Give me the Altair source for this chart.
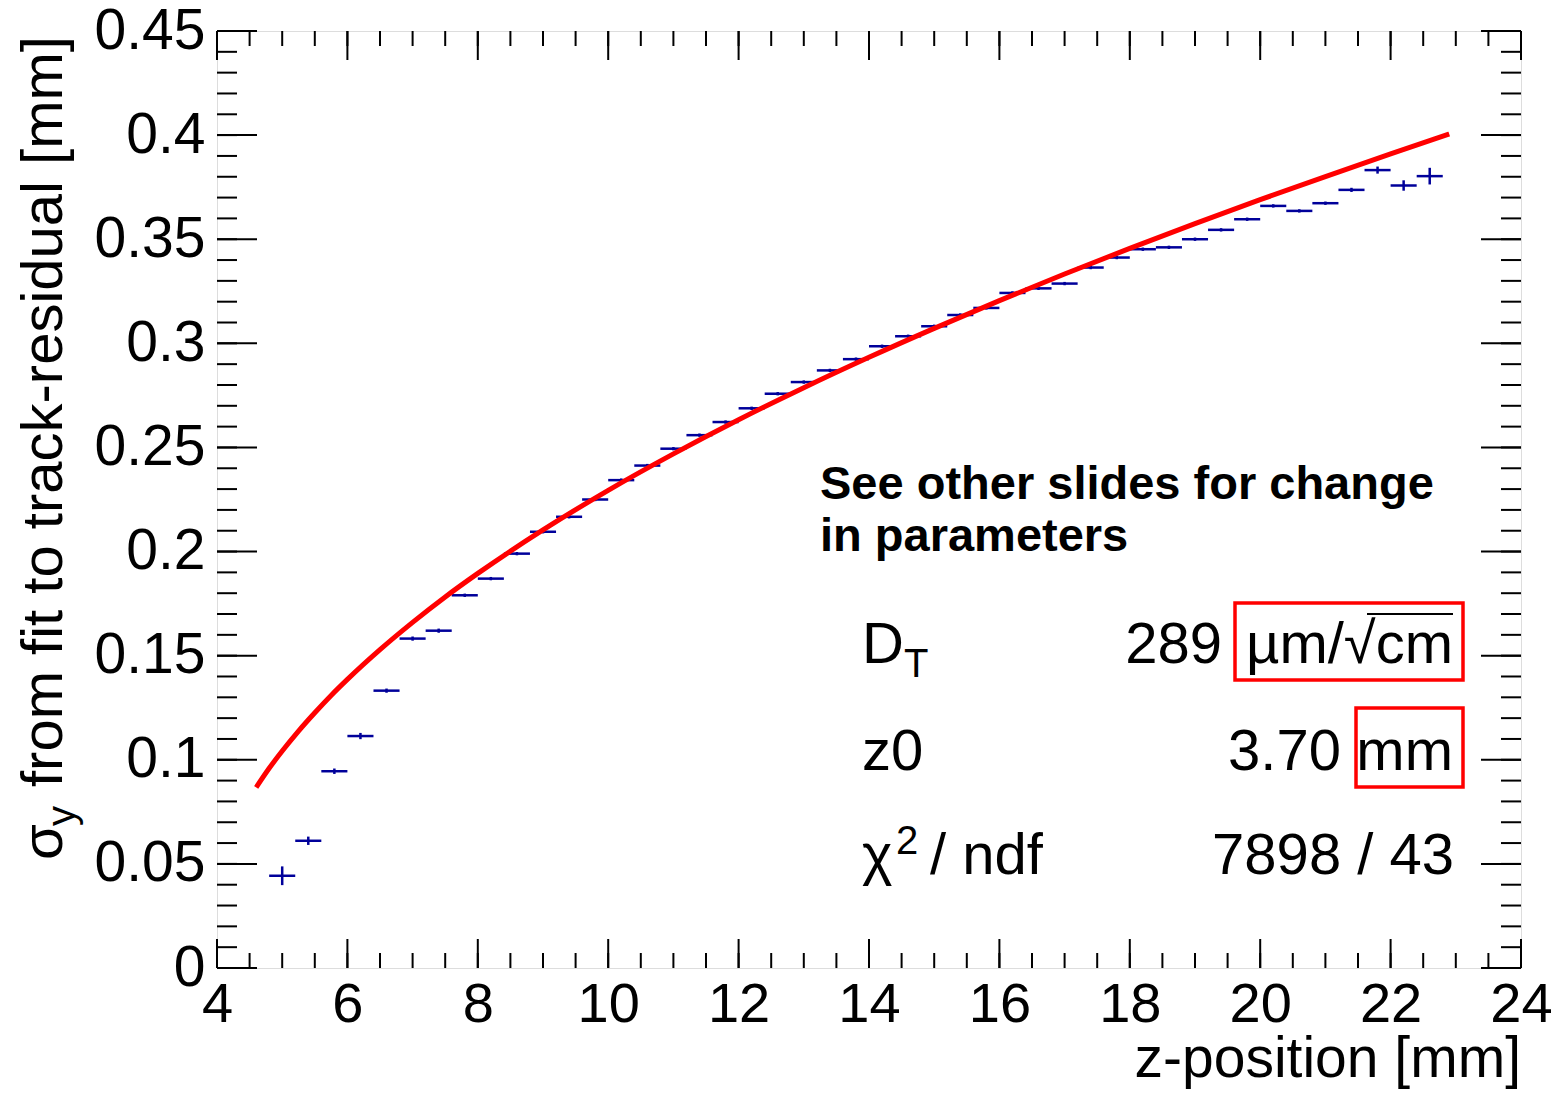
import altair as alt
import pandas as pd

# ---- data ----
z_bins = [5.0, 5.4, 5.8, 6.2, 6.6, 7.0, 7.4, 7.8, 8.2, 8.6, 9.0, 9.4, 9.8, 10.2, 10.6,
          11.0, 11.4, 11.8, 12.2, 12.6, 13.0, 13.4, 13.8, 14.2, 14.6, 15.0, 15.4, 15.8,
          16.2, 16.6, 17.0, 17.4, 17.8, 18.2, 18.6, 19.0, 19.4, 19.8, 20.2, 20.6, 21.0,
          21.4, 21.8, 22.2, 22.6]
sigma_y = [0.0443, 0.0611, 0.0945, 0.1114, 0.1332, 0.1582, 0.1620, 0.1790, 0.1870, 0.1990,
           0.2095, 0.2167, 0.2250, 0.2343, 0.2413, 0.2494, 0.2559, 0.2622, 0.2688, 0.2758,
           0.2814, 0.2870, 0.2924, 0.2986, 0.3034, 0.3082, 0.3136, 0.3170, 0.3242, 0.3264,
           0.3287, 0.3364, 0.3412, 0.3452, 0.3461, 0.3500, 0.3545, 0.3596, 0.3660, 0.3636,
           0.3673, 0.3737, 0.3832, 0.3758, 0.3803]
sigma_err = [0.0045, 0.0020, 0.0013, 0.0015, 0.0010, 0.0010, 0.0010, 0.0008, 0.0008, 0.0008,
             0.0008, 0.0008, 0.0008, 0.0008, 0.0008, 0.0008, 0.0008, 0.0008, 0.0008, 0.0008,
             0.0008, 0.0008, 0.0008, 0.0008, 0.0008, 0.0008, 0.0008, 0.0008, 0.0008, 0.0008,
             0.0008, 0.0008, 0.0008, 0.0008, 0.0008, 0.0008, 0.0008, 0.0008, 0.0008, 0.0008,
             0.0008, 0.0010, 0.0017, 0.0025, 0.0040]
bin_half_width = 0.2

fit_z = [4.6, 4.8, 5.0, 5.25, 5.5, 5.75, 6.0, 6.5, 7.0, 7.5, 8.0, 9.0, 10.0, 11.0, 12.0,
         13.0, 14.0, 15.0, 16.0, 17.0, 18.0, 19.0, 20.0, 21.0, 22.0, 22.9]
fit_sigma = [0.0867, 0.0959, 0.1042, 0.1138, 0.1226, 0.1309, 0.1386, 0.1529, 0.1660, 0.1782,
             0.1895, 0.2104, 0.2294, 0.2469, 0.2633, 0.2787, 0.2933, 0.3072, 0.3205, 0.3333,
             0.3456, 0.3575, 0.3690, 0.3801, 0.3910, 0.4005]

x_major = [4, 6, 8, 10, 12, 14, 16, 18, 20, 22, 24]
x_minor = [4 + 0.5 * i for i in range(41)]
y_major = [0, 0.05, 0.1, 0.15, 0.2, 0.25, 0.3, 0.35, 0.4, 0.45]
y_minor = [round(0.01 * i, 2) for i in range(46)]

W, H = 1304, 937
FONT = "Liberation Sans"
BLUE = "#00009a"
RED = "#ff0000"

pts = pd.DataFrame({"z": z_bins, "s": sigma_y, "e": sigma_err})
pts["z_lo"] = pts["z"] - bin_half_width
pts["z_hi"] = pts["z"] + bin_half_width
pts["s_lo"] = pts["s"] - pts["e"]
pts["s_hi"] = pts["s"] + pts["e"]
fit = pd.DataFrame({"z": fit_z, "s": fit_sigma})

xs = alt.Scale(domain=[4, 24], nice=False, zero=False)
ys = alt.Scale(domain=[0, 0.45], nice=False, zero=False)

x_axis = alt.Axis(values=x_major, format="d", title=None, grid=False, domain=False,
                  ticks=False, tickSize=0, labelFontSize=56, labelFont=FONT,
                  labelColor="black", labelPadding=9, labelBaseline="top",
                  labelFlush=False, labelOverlap=False)
y_axis = alt.Axis(values=y_major, format=".2~f", title=None, grid=False, domain=False,
                  ticks=False, tickSize=0, labelFontSize=57, labelFont=FONT,
                  labelColor="black", labelPadding=12, labelBaseline="middle",
                  labelFlush=False, labelOverlap=False)

def X(f):
    return alt.X(f, scale=xs, axis=x_axis)

def Y(f):
    return alt.Y(f, scale=ys, axis=y_axis)

hbars = alt.Chart(pts).mark_rule(color=BLUE, strokeWidth=2.5).encode(
    x=X("z_lo:Q"), x2="z_hi:Q", y=Y("s:Q"))
vbars = alt.Chart(pts).mark_rule(color=BLUE, strokeWidth=2.5).encode(
    x=X("z:Q"), y=Y("s_lo:Q"), y2="s_hi:Q")
curve = alt.Chart(fit).mark_line(color=RED, strokeWidth=5, interpolate="monotone").encode(
    x=X("z:Q"), y=Y("s:Q"))

def xticks(vals, L):
    d = pd.DataFrame({"v": vals})
    b = alt.Chart(d).mark_rule(color="black", strokeWidth=2).encode(
        x=X("v:Q"), y=alt.value(H), y2=alt.value(H - L))
    t = alt.Chart(d).mark_rule(color="black", strokeWidth=2).encode(
        x=X("v:Q"), y=alt.value(0), y2=alt.value(L))
    return [b, t]

def yticks(vals, L):
    d = pd.DataFrame({"v": vals})
    l = alt.Chart(d).mark_rule(color="black", strokeWidth=2).encode(
        y=Y("v:Q"), x=alt.value(0), x2=alt.value(L))
    r = alt.Chart(d).mark_rule(color="black", strokeWidth=2).encode(
        y=Y("v:Q"), x=alt.value(W - L), x2=alt.value(W))
    return [l, r]

one = pd.DataFrame({"k": [0]})

def txt(s, x, y, size=58, align="left", bold=False, angle=0):
    kw = dict(text=s, align=align, baseline="alphabetic", fontSize=size, font=FONT,
              color="black", fontWeight="bold" if bold else "normal")
    if angle:
        kw["angle"] = angle
    return alt.Chart(one).mark_text(**kw).encode(x=alt.value(x), y=alt.value(y))

def box(x1, x2, y1, y2):
    return alt.Chart(one).mark_rect(fill=None, fillOpacity=0, stroke=RED, strokeWidth=3.5).encode(
        x=alt.value(x1), x2=alt.value(x2), y=alt.value(y1), y2=alt.value(y2))

overline = alt.Chart(one).mark_rule(color="black", strokeWidth=2).encode(
    x=alt.value(1150), x2=alt.value(1236), y=alt.value(583))

texts = [
    txt("See other slides for change", 603, 468, size=47, bold=True),
    txt("in parameters", 603, 520, size=47, bold=True),
    txt("D", 645, 632),
    txt("T", 687, 646, size=40),
    txt("289", 1005, 632, align="right"),
    txt("µm/√cm", 1236, 632, align="right"),
    txt("z0", 645, 739),
    txt("3.70", 1124, 739, align="right"),
    txt("mm", 1236, 739, align="right"),
    txt("χ", 645, 843),
    txt("2", 679, 823, size=40),
    txt("/ ndf", 713, 843),
    txt("7898 / 43", 1237, 843, align="right"),
    # axis titles
    txt("z-position [mm]", W, 1046, size=57, align="right"),
    txt("σ", -155, 829, size=58, angle=270),
    txt("y", -142, 795, size=40, angle=270),
    txt("from fit to track-residual [mm]", -155, 756, size=58, angle=270),
]

layers = ([hbars, vbars, curve]
          + xticks(x_minor, 15) + xticks(x_major, 29)
          + yticks(y_minor, 20) + yticks(y_major, 40)
          + [box(1018, 1246, 572, 649), box(1139, 1246, 677, 756), overline]
          + texts)

chart = alt.layer(*layers).properties(
    width=W, height=H,
    autosize=alt.AutoSizeParams(type="none"),
    padding={"left": 209, "top": 23, "right": 30, "bottom": 121},
).configure_view(stroke="black", strokeWidth=3).configure(background="white")

chart.save("out.html", embed_options={"renderer": "svg", "actions": False})
